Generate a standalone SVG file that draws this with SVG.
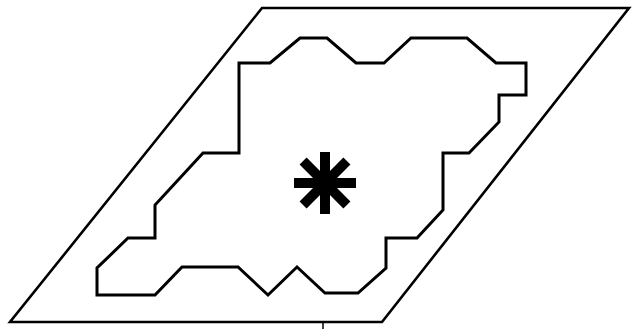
<svg xmlns="http://www.w3.org/2000/svg" width="634" height="329" viewBox="0 0 634 329">
<style>
.ln{fill:none;stroke:#000;stroke-linejoin:miter;stroke-linecap:butt}
.arm{fill:#000}
</style>
<rect width="634" height="329" fill="#fff"/>
<g id="plate">
<polygon class="ln" stroke-width="2.6" points="262,8 629,8 382,322 10,322"/>
<line class="ln" stroke-width="1.5" x1="323" y1="322" x2="323" y2="329"/>
</g>
<g id="region">
<polygon class="ln" stroke-width="3" points="300,38 327,38 356,63 384,63 411,38 467,38 496,63 526,63 526,95 499,95 499,122 469,153 443,153 443,210 417,238 386,238 386,268 358,293 325,293 297,267 268,295 238,267 182,267 155,295 97,295 97,268 128,238 155,238 155,205 203,153 239,153 239,63 270,63"/>
</g>
<g id="asterisk" transform="translate(325,183)">
<rect class="arm" x="-31" y="-5" width="62" height="10"/>
<rect class="arm" x="-5" y="-31" width="10" height="62"/>
<rect class="arm" x="-31" y="-5" width="62" height="10" transform="rotate(45)"/>
<rect class="arm" x="-31" y="-5" width="62" height="10" transform="rotate(-45)"/>
</g>
</svg>
